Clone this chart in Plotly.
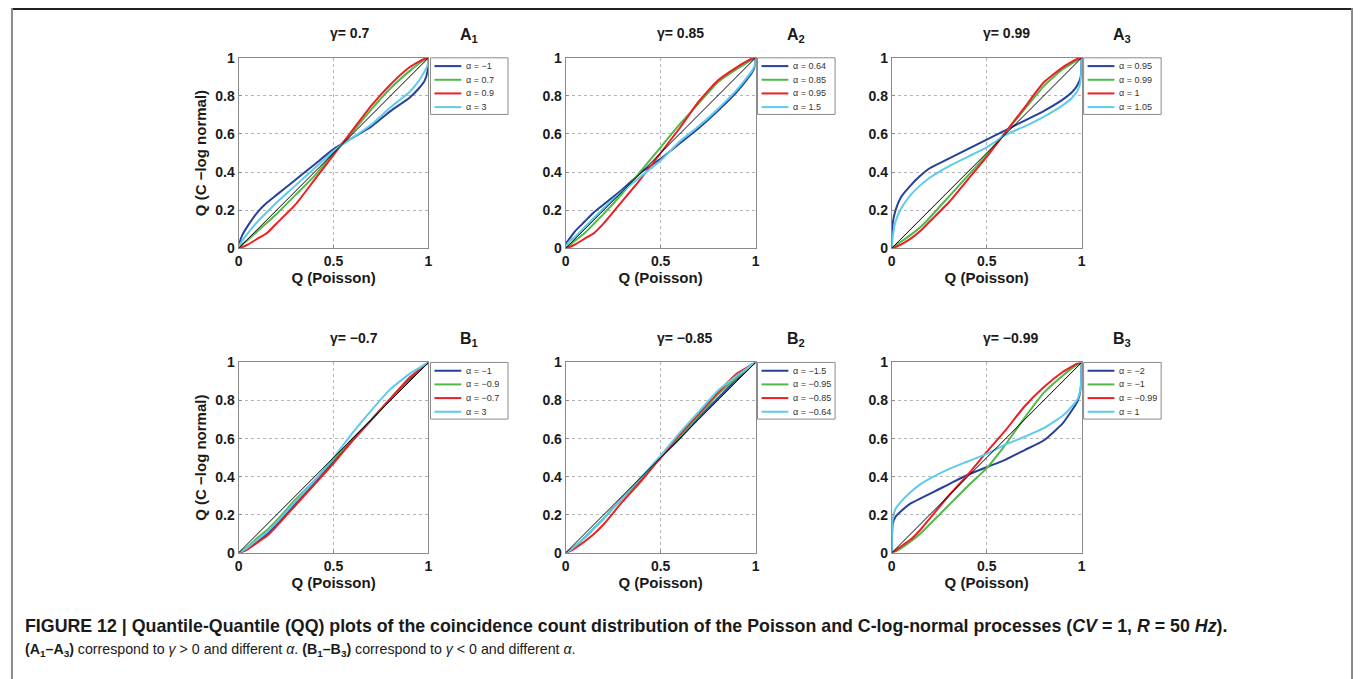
import plotly.graph_objects as go

W, H = 1360, 679
FONT = "Liberation Sans, Arial, Helvetica, sans-serif"

# ---------------- data ----------------
q_poisson = [0, 0.005, 0.02, 0.05, 0.1, 0.15, 0.2, 0.3, 0.4, 0.5, 0.6, 0.7, 0.8, 0.9, 0.95, 0.98, 0.995, 1.0]

panel_names = ["A1", "A2", "A3", "B1", "B2", "B3"]
panel_gammas = ["0.7", "0.85", "0.99", "−0.7", "−0.85", "−0.99"]

alpha_A1 = ["−1", "0.7", "0.9", "3"]
A1_blue  = [0, 0.03, 0.07, 0.12, 0.19, 0.24, 0.28, 0.36, 0.44, 0.52, 0.58, 0.64, 0.72, 0.79, 0.84, 0.88, 0.93, 1]
A1_green = [0, 0.005, 0.02, 0.045, 0.09, 0.135, 0.18, 0.28, 0.38, 0.50, 0.61, 0.73, 0.84, 0.93, 0.97, 0.99, 0.997, 1]
A1_red   = [0, 0.002, 0.006, 0.02, 0.05, 0.08, 0.13, 0.23, 0.36, 0.49, 0.62, 0.75, 0.86, 0.95, 0.98, 0.995, 0.999, 1]
A1_cyan  = [0, 0.015, 0.04, 0.08, 0.14, 0.19, 0.24, 0.33, 0.42, 0.51, 0.58, 0.65, 0.74, 0.82, 0.88, 0.93, 0.96, 1]

alpha_A2 = ["0.64", "0.85", "0.95", "1.5"]
A2_blue  = [0, 0.03, 0.05, 0.09, 0.14, 0.19, 0.23, 0.31, 0.40, 0.47, 0.55, 0.63, 0.72, 0.82, 0.88, 0.92, 0.95, 1]
A2_green = [0, 0.004, 0.015, 0.04, 0.08, 0.13, 0.18, 0.29, 0.41, 0.53, 0.65, 0.76, 0.87, 0.94, 0.97, 0.99, 0.997, 1]
A2_red   = [0, 0.002, 0.006, 0.02, 0.05, 0.08, 0.13, 0.25, 0.37, 0.50, 0.63, 0.77, 0.88, 0.95, 0.98, 0.995, 0.999, 1]
A2_cyan  = [0, 0.015, 0.035, 0.06, 0.11, 0.16, 0.21, 0.30, 0.38, 0.46, 0.56, 0.64, 0.73, 0.83, 0.89, 0.93, 0.96, 1]

alpha_A3 = ["0.95", "0.99", "1", "1.05"]
A3_blue  = [0, 0.13, 0.20, 0.27, 0.33, 0.38, 0.42, 0.47, 0.52, 0.57, 0.62, 0.67, 0.72, 0.78, 0.82, 0.86, 0.90, 1]
A3_green = [0, 0.004, 0.015, 0.035, 0.07, 0.11, 0.16, 0.27, 0.38, 0.49, 0.61, 0.73, 0.85, 0.94, 0.97, 0.99, 0.997, 1]
A3_red   = [0, 0.002, 0.006, 0.02, 0.05, 0.09, 0.14, 0.24, 0.36, 0.48, 0.61, 0.74, 0.87, 0.95, 0.98, 0.995, 0.999, 1]
A3_cyan  = [0, 0.06, 0.14, 0.21, 0.28, 0.33, 0.37, 0.43, 0.48, 0.53, 0.595, 0.64, 0.69, 0.75, 0.79, 0.83, 0.88, 1]

alpha_B1 = ["−1", "−0.9", "−0.7", "3"]
B1_blue  = [0, 0.002, 0.008, 0.025, 0.06, 0.10, 0.15, 0.26, 0.37, 0.48, 0.59, 0.70, 0.81, 0.91, 0.955, 0.985, 0.997, 1]
B1_green = [0, 0.003, 0.012, 0.035, 0.08, 0.12, 0.17, 0.28, 0.38, 0.49, 0.60, 0.70, 0.81, 0.92, 0.96, 0.985, 0.997, 1]
B1_red   = [0, 0.002, 0.006, 0.02, 0.055, 0.09, 0.14, 0.25, 0.36, 0.47, 0.59, 0.70, 0.81, 0.92, 0.96, 0.985, 0.997, 1]
B1_cyan  = [0, 0.003, 0.01, 0.03, 0.07, 0.11, 0.16, 0.27, 0.38, 0.50, 0.63, 0.75, 0.86, 0.94, 0.97, 0.99, 0.998, 1]

alpha_B2 = ["−1.5", "−0.95", "−0.85", "−0.64"]
B2_blue  = [0, 0.003, 0.012, 0.035, 0.08, 0.13, 0.18, 0.29, 0.39, 0.50, 0.60, 0.71, 0.81, 0.91, 0.955, 0.985, 0.997, 1]
B2_green = [0, 0.003, 0.012, 0.035, 0.08, 0.13, 0.18, 0.29, 0.39, 0.50, 0.61, 0.72, 0.83, 0.92, 0.96, 0.985, 0.997, 1]
B2_red   = [0, 0.002, 0.008, 0.025, 0.06, 0.10, 0.15, 0.27, 0.38, 0.50, 0.62, 0.73, 0.84, 0.94, 0.97, 0.99, 0.998, 1]
B2_cyan  = [0, 0.003, 0.012, 0.035, 0.08, 0.13, 0.18, 0.29, 0.40, 0.51, 0.63, 0.74, 0.85, 0.93, 0.965, 0.99, 0.998, 1]

alpha_B3 = ["−2", "−1", "−0.99", "1"]
B3_blue  = [0, 0.15, 0.19, 0.22, 0.26, 0.285, 0.31, 0.36, 0.41, 0.45, 0.49, 0.54, 0.59, 0.68, 0.75, 0.80, 0.86, 1]
B3_green = [0, 0.002, 0.008, 0.025, 0.06, 0.10, 0.15, 0.25, 0.35, 0.445, 0.57, 0.71, 0.84, 0.93, 0.97, 0.99, 0.998, 1]
B3_red   = [0, 0.003, 0.012, 0.035, 0.07, 0.12, 0.18, 0.30, 0.41, 0.53, 0.645, 0.77, 0.87, 0.95, 0.98, 0.995, 0.999, 1]
B3_cyan  = [0, 0.18, 0.23, 0.27, 0.32, 0.36, 0.39, 0.44, 0.48, 0.52, 0.57, 0.61, 0.655, 0.72, 0.77, 0.81, 0.87, 1]

x_ticks = [0, 0.5, 1]
x_tick_labels = ["0", "0.5", "1"]
y_ticks = [0, 0.2, 0.4, 0.6, 0.8, 1]
y_tick_labels = ["0", "0.2", "0.4", "0.6", "0.8", "1"]

series_colors = ["#27409a", "#52b848", "#ec1f24", "#5fcbec"]

panels = [
    (alpha_A1, [A1_blue, A1_green, A1_red, A1_cyan]),
    (alpha_A2, [A2_blue, A2_green, A2_red, A2_cyan]),
    (alpha_A3, [A3_blue, A3_green, A3_red, A3_cyan]),
    (alpha_B1, [B1_blue, B1_green, B1_red, B1_cyan]),
    (alpha_B2, [B2_blue, B2_green, B2_red, B2_cyan]),
    (alpha_B3, [B3_blue, B3_green, B3_red, B3_cyan]),
]

# ---------------- layout geometry (pixels) ----------------
col_left = [236, 565, 893]
plot_w = 191
row_top = [51, 363]
plot_h = 195


def px(x):
    return x / W


def py(y):
    return 1 - y / H


fig = go.Figure()
layout = dict(
    width=W, height=H, margin=dict(l=0, r=0, t=0, b=0),
    paper_bgcolor="white", plot_bgcolor="white", showlegend=False,
    font=dict(family=FONT, color="#1a1a1a"),
)
shapes = []
annotations = []

for i, (alphas, curves) in enumerate(panels):
    r, c = divmod(i, 3)
    L = col_left[c]
    T = row_top[r]
    k = "" if i == 0 else str(i + 1)
    xa = "x" + k
    ya = "y" + k

    for j, ys in enumerate(curves):
        fig.add_trace(go.Scatter(x=q_poisson, y=ys, mode="lines", xaxis=xa, yaxis=ya,
                                 name="α = " + alphas[j],
                                 line=dict(color=series_colors[j], width=2, shape="spline", smoothing=0.5)))
    # diagonal reference (drawn on top)
    fig.add_trace(go.Scatter(x=[0, 1], y=[0, 1], mode="lines", xaxis=xa, yaxis=ya,
                             line=dict(color="black", width=1), hoverinfo="skip"))

    common = dict(showline=True, mirror=True, linecolor="#8a8a8a", linewidth=1,
                  showgrid=True, gridcolor="#b5b5b5", griddash="dot", gridwidth=1,
                  zeroline=False, ticks="inside", ticklen=3, tickcolor="#8a8a8a",
                  tickfont=dict(size=14, family=FONT, weight="bold", color="#1a1a1a"),
                  fixedrange=True)
    layout["xaxis" + k] = dict(common, domain=[px(L), px(L + plot_w)], range=[0, 1],
                               tickvals=x_ticks, ticktext=x_tick_labels, anchor=ya,
                               title=dict(text="Q (Poisson)", standoff=0,
                                          font=dict(size=15, family=FONT, weight="bold", color="#1a1a1a")))
    yax = dict(common, domain=[py(T + plot_h), py(T)], range=[0, 1],
               tickvals=y_ticks, ticktext=y_tick_labels, anchor=xa)
    if c == 0:
        yax["title"] = dict(text="Q (C −log normal)", standoff=5,
                            font=dict(size=15, family=FONT, weight="bold", color="#1a1a1a"))
    layout["yaxis" + k] = yax

    # panel title and label
    ty = T - 25
    annotations.append(dict(x=px(L + 90), y=py(ty), xref="paper", yref="paper", xanchor="left", yanchor="middle",
                            text="<b>γ= " + panel_gammas[i] + "</b>", showarrow=False,
                            font=dict(size=14, family=FONT, color="#1a1a1a")))
    annotations.append(dict(x=px(L + 221), y=py(ty + 2), xref="paper", yref="paper", xanchor="left", yanchor="middle",
                            text="<b>" + panel_names[i][0] + "<sub>" + panel_names[i][1] + "</sub></b>",
                            showarrow=False, font=dict(size=16, family=FONT, color="#1a1a1a")))

    # legend box (outside, upper right of each axes)
    lx0 = L + plot_w + 2
    lw, lh = 78, 58
    shapes.append(dict(type="rect", xref="paper", yref="paper", x0=px(lx0), x1=px(lx0 + lw),
                       y0=py(T + lh), y1=py(T), line=dict(color="#8a8a8a", width=1), fillcolor="white"))
    for j, a in enumerate(alphas):
        rowy = T + 8.5 + j * 14
        shapes.append(dict(type="line", xref="paper", yref="paper", x0=px(lx0 + 4), x1=px(lx0 + 31),
                           y0=py(rowy), y1=py(rowy), line=dict(color=series_colors[j], width=2)))
        annotations.append(dict(x=px(lx0 + 34), y=py(rowy), xref="paper", yref="paper",
                                xanchor="left", yanchor="middle", text="α = " + a, showarrow=False,
                                font=dict(size=9, family=FONT, color="#333333")))

# outer frame
shapes.append(dict(type="line", xref="paper", yref="paper", x0=px(8), x1=px(1356), y0=py(1), y1=py(1),
                   line=dict(color="#222222", width=2)))
shapes.append(dict(type="line", xref="paper", yref="paper", x0=px(8), x1=px(8), y0=py(0), y1=py(700),
                   line=dict(color="#8a8a8a", width=2)))
shapes.append(dict(type="line", xref="paper", yref="paper", x0=px(1356), x1=px(1356), y0=py(0), y1=py(700),
                   line=dict(color="#8a8a8a", width=2)))

# caption
cap1 = ("<b>FIGURE 12 | Quantile-Quantile (QQ) plots of the coincidence count distribution of the Poisson "
        "and C-log-normal processes (<i>CV</i> = 1, <i>R</i> = 50 <i>Hz</i>).</b>")
cap2 = ("<b>(A<sub>1</sub>–A<sub>3</sub>)</b> correspond to <i>γ</i> > 0 and different <i>α</i>. "
        "<b>(B<sub>1</sub>–B<sub>3</sub>)</b> correspond to <i>γ</i> < 0 and different <i>α</i>.")
annotations.append(dict(x=px(19), y=py(633), xref="paper", yref="paper", xanchor="left", yanchor="middle",
                        text=cap1, showarrow=False, font=dict(size=17.8, family=FONT, color="#1a1a1a")))
annotations.append(dict(x=px(19), y=py(657), xref="paper", yref="paper", xanchor="left", yanchor="middle",
                        text=cap2, showarrow=False, font=dict(size=14.2, family=FONT, color="#1a1a1a")))

layout["shapes"] = shapes
layout["annotations"] = annotations
fig.update_layout(**layout)
fig.write_html("out.html")
